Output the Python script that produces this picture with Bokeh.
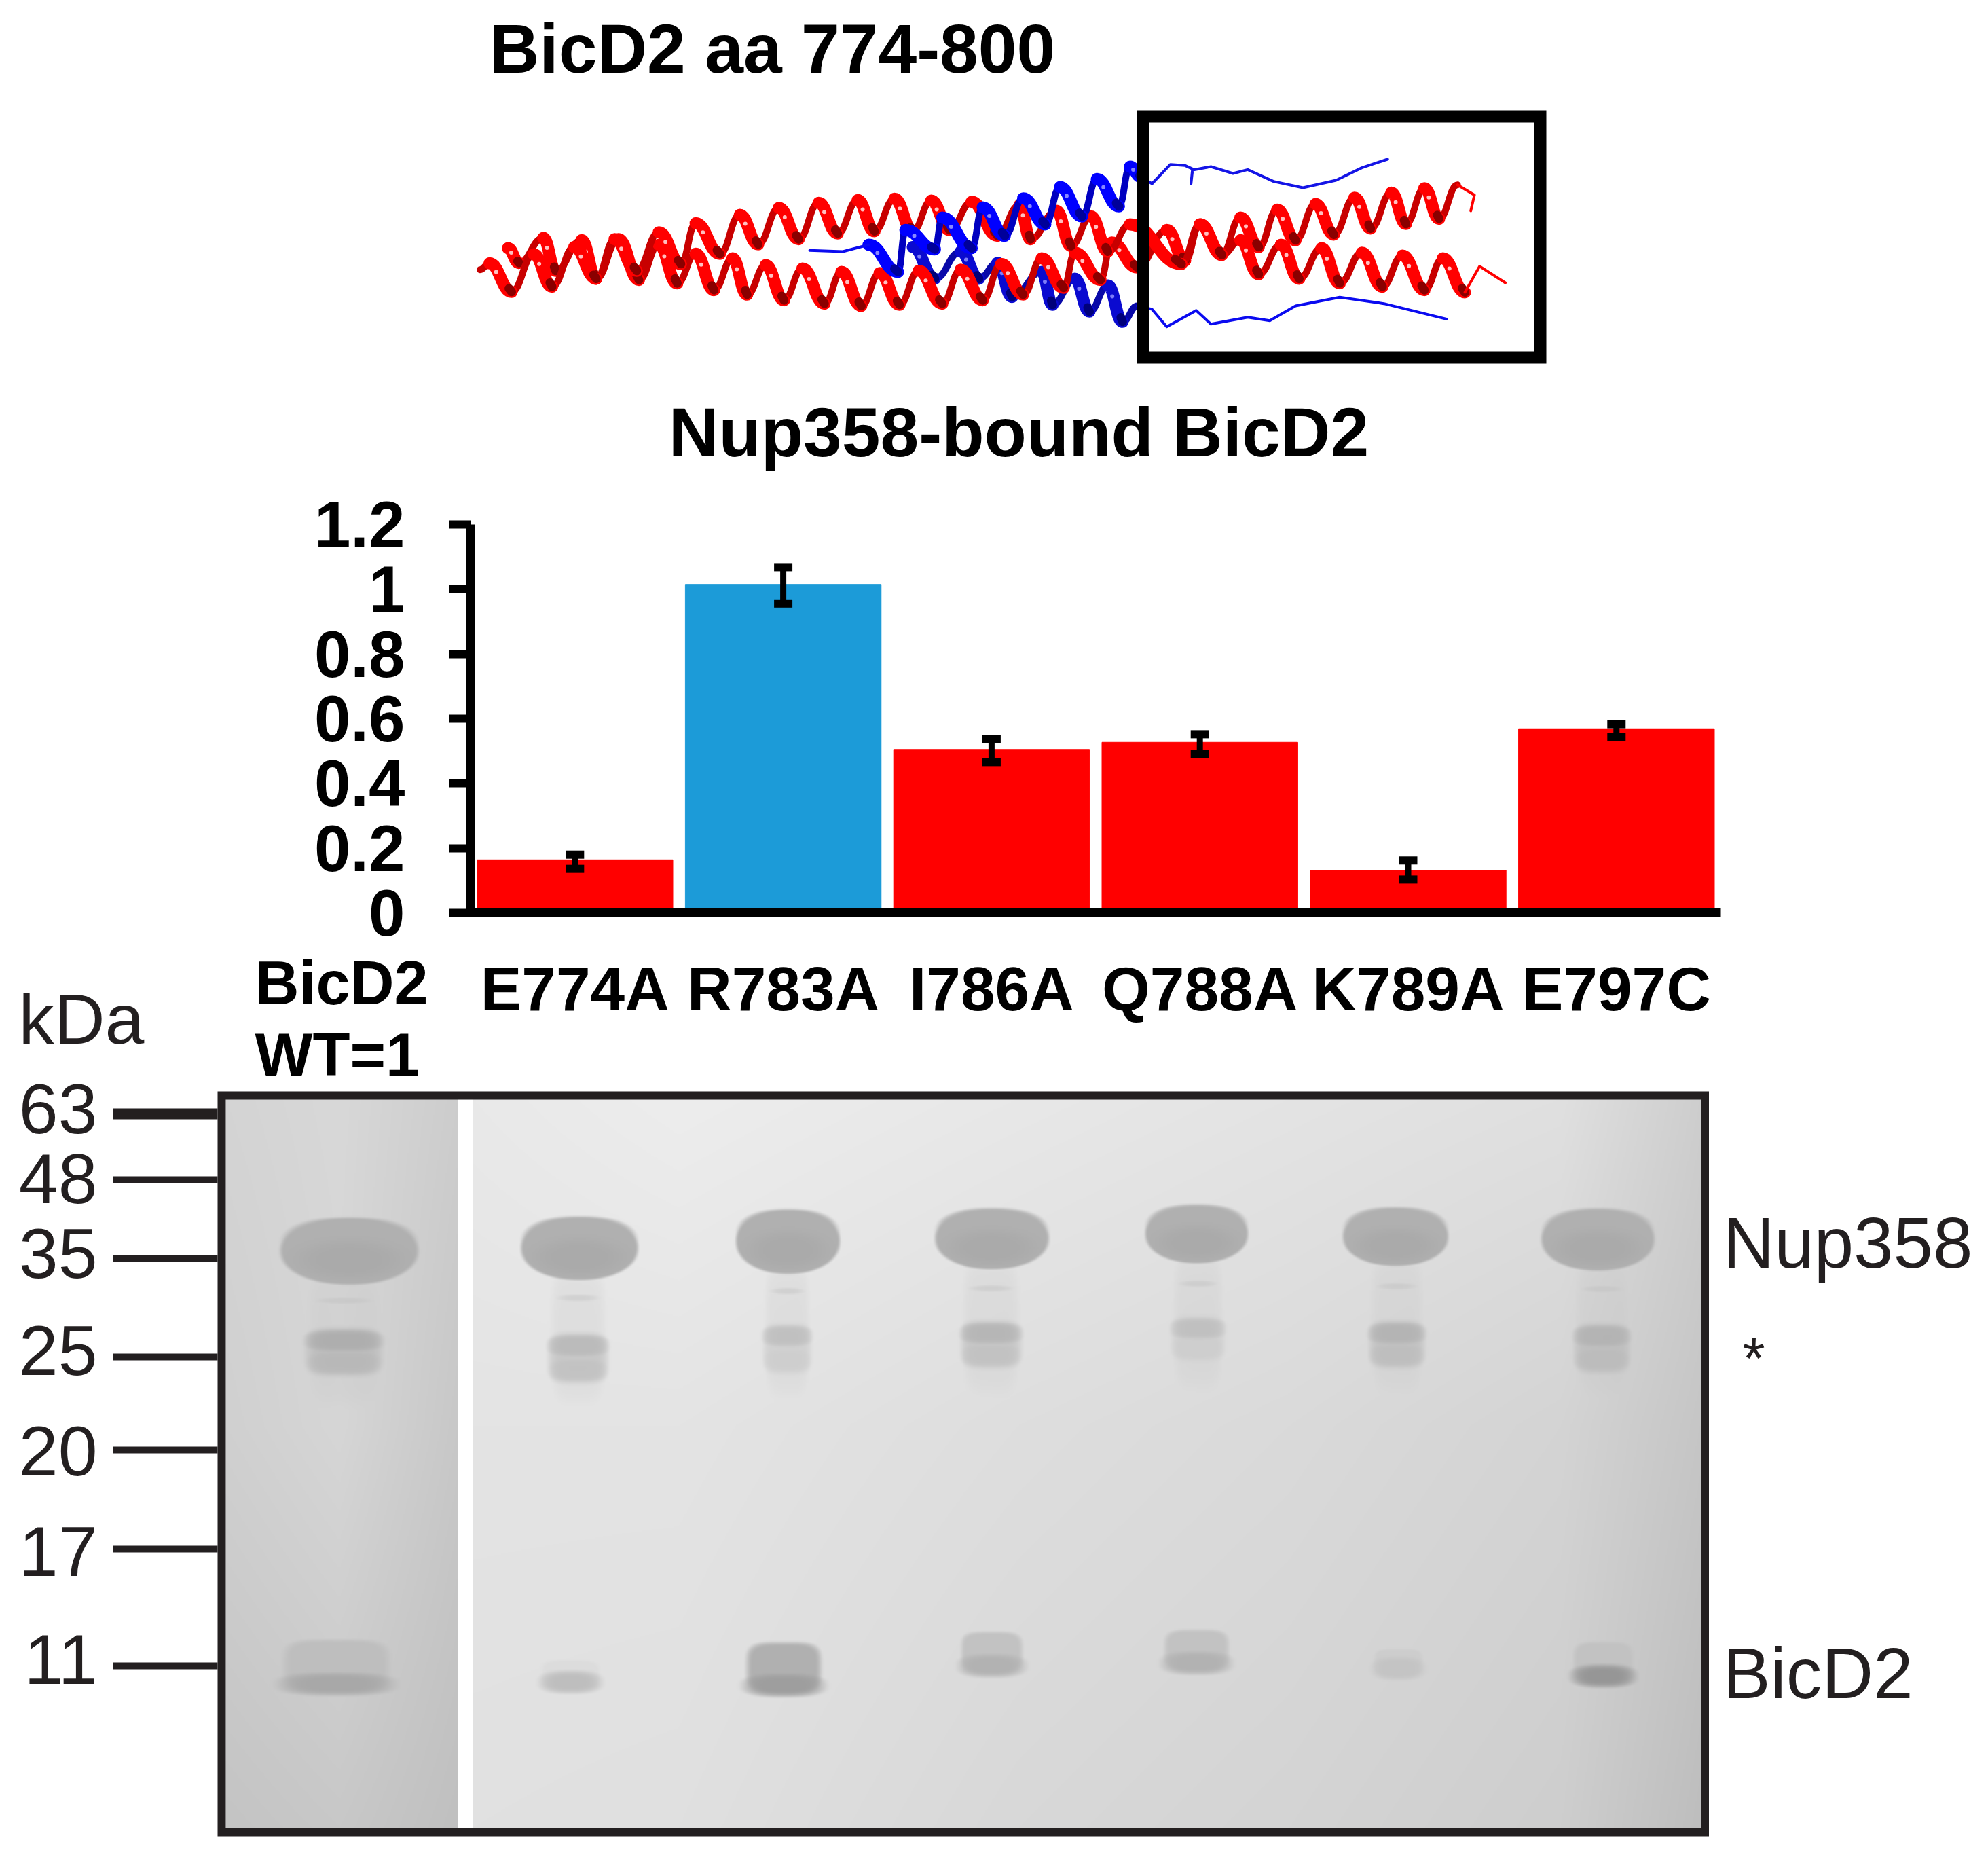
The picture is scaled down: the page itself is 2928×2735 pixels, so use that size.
import numpy as np
from bokeh.core.properties import value
from bokeh.embed import file_html
from bokeh.models import ColumnDataSource, FixedTicker, LinearAxis, Range1d, TeeHead, Whisker
from bokeh.plotting import figure
from bokeh.resources import INLINE

# bar chart values
mutants = ["E774A", "R783A", "I786A", "Q788A", "K789A", "E797C"]
lanes = [0, 1, 2, 3, 4, 5]
bound = [0.164, 1.015, 0.505, 0.527, 0.132, 0.569]
err_low = [0.136, 0.956, 0.466, 0.491, 0.103, 0.543]
err_high = [0.180, 1.068, 0.537, 0.552, 0.162, 0.583]
bar_colors = ["#ff0000", "#1c9bd8", "#ff0000", "#ff0000", "#ff0000", "#ff0000"]
y_ticks = [0, 0.2, 0.4, 0.6, 0.8, 1, 1.2]
y_tick_text = ["0", "0.2", "0.4", "0.6", "0.8", "1", "1.2"]

# molecular weight ladder next to the gel
mw_labels = ["63", "48", "35", "25", "20", "17", "11"]
mw_tick_y = [1640, 1737, 1853, 1998, 2135, 2281, 2453]
mw_text_y = [1632, 1735, 1845, 1988, 2136, 2284, 2443]
mw_tick_w = [16, 10, 10, 10, 10, 10, 10]

# gel lanes in page pixels
nup_x = [514, 853, 1160, 1461, 1763, 2056, 2354]
nup_hw = [106, 90, 80, 88, 79, 81, 87]
nup_y = [1839, 1835, 1825, 1821, 1814, 1818, 1822]
nup_hh = [51, 48, 49, 46, 44, 44, 47]
star_x = [506, 851, 1159, 1460, 1765, 2058, 2360]
star_hw = [60, 47, 38, 48, 42, 44, 44]
star_y1 = [1974, 1981, 1967, 1963, 1956, 1963, 1967]
star_y2 = [2007, 2018, 2004, 1996, 1985, 1996, 2003]
star_gray1 = [172, 185, 190, 180, 190, 178, 178]
star_gray2 = [182, 192, 205, 192, 205, 188, 186]
bic_x = [495, 840, 1154, 1461, 1763, 2060, 2362]
bic_hw = [92, 50, 65, 54, 56, 42, 52]
bic_y = [2480, 2477, 2482, 2453, 2449, 2457, 2468]
bic_top = [2423, 2455, 2427, 2412, 2409, 2438, 2427]
bic_gray = [168, 190, 158, 178, 178, 196, 150]
bic_upper = [190, 220, 176, 194, 194, 205, 194]

# coarse gel shading
left_x = [332, 500, 674]
right_x = [697, 1000, 1500, 1900, 2300, 2505]
shade_y = [1618, 2100, 2692]
left_gray = [[212, 216, 205], [208, 214, 200], [196, 200, 192]]
right_gray = [[233, 237, 232, 228, 224, 206],
              [228, 228, 222, 218, 212, 198],
              [225, 224, 216, 212, 206, 190]]

red_a_x = [52, 65, 95, 125, 150, 180, 210, 235, 265, 295, 325, 345, 378, 405, 430, 458, 485, 512, 538, 565,
           588, 615, 640, 665, 690, 720, 755, 785, 800, 835, 855, 882, 905, 935, 1005, 1030, 1060, 1085,
           1110, 1140, 1165, 1195, 1220, 1250, 1278, 1305, 1335, 1360, 1390]
red_a_y = [800, 772, 898, 732, 875, 700, 840, 665, 805, 635, 775, 595, 730, 558, 688, 527, 665, 505, 640, 493,
           630, 487, 630, 495, 625, 500, 650, 515, 665, 540, 695, 565, 720, 600, 775, 600, 735, 670,
           820, 690, 840, 705, 860, 725, 875, 738, 890, 750, 900]
red_b_x = [90, 105, 138, 155, 190, 210, 240, 268, 295, 320, 345, 370, 395, 415, 440, 465, 490, 520, 543, 570,
           595, 622, 648, 680, 705, 735, 760, 790, 815, 845, 860, 895, 910, 945, 985, 1010, 1030, 1060, 1085,
           1110, 1135, 1160, 1187, 1212, 1240, 1262, 1290, 1310, 1335, 1355, 1380]
red_b_y = [705, 770, 660, 805, 670, 840, 665, 845, 690, 860, 730, 890, 750, 910, 780, 935, 795, 950, 810, 960,
           815, 955, 805, 950, 800, 935, 775, 910, 750, 880, 725, 845, 680, 790, 625, 760, 600, 730, 570,
           700, 535, 670, 510, 645, 482, 618, 460, 598, 440, 575, 425]
red_a_tail_x = [1390, 1410, 1445]
red_a_tail_y = [900, 785, 858]
red_b_tail_x = [1380, 1403, 1398]
red_b_tail_y = [425, 470, 540]
blue_a_x = [580, 620, 630, 670, 680, 720, 735, 765, 790, 820, 840, 870, 890, 920, 935, 950]
blue_a_y = [690, 810, 625, 710, 570, 705, 525, 650, 485, 600, 435, 565, 400, 520, 345, 390]
blue_a_tail_x = [950, 965, 990, 1010, 1020, 1018, 1020, 1045, 1075, 1095, 1130, 1170, 1215, 1250, 1285]
blue_a_tail_y = [390, 420, 335, 340, 355, 420, 360, 345, 375, 358, 410, 438, 405, 350, 312]
blue_start_x = [500, 545, 580]
blue_start_y = [715, 720, 690]
blue_b_x = [640, 670, 705, 730, 755, 775, 815, 830, 860, 880, 905, 925, 945]
blue_b_y = [700, 840, 720, 840, 770, 920, 810, 955, 840, 985, 870, 1030, 960]
blue_b_tail_x = [945, 965, 985, 1025, 1045, 1095, 1125, 1160, 1220, 1280, 1365]
blue_b_tail_y = [960, 975, 1052, 980, 1040, 1010, 1025, 960, 922, 950, 1018]

FONT = "Liberation Sans"
INK = "#231f20"

# pixels of the value axis and of the lanes on the page
ZERO_Y, UNIT_Y = 1344, 476.67
LANE0_X, LANE_W = 846.3, 306.8
PAGE_W, PAGE_H = 2912, 2719


def crop_x(xs):
    return [650 + x * 1700 / 1568 for x in xs]


def crop_y(ys):
    return [130 + y / 3 for y in ys]


def add_helix(fig, xs, ys, color, back, dark, shine):
    px, py = np.array(crop_x(xs)), np.array(crop_y(ys))
    x0, x1, y0, y1 = px[:-1], px[1:], py[:-1], py[1:]
    dx = (x1 - x0) * 0.45
    down = y1 > y0
    # back strokes first and thin, front strokes on top and wide
    fig.bezier(x0[~down], y0[~down], x1[~down], y1[~down], (x0 + dx)[~down], y0[~down], (x1 - dx)[~down], y1[~down],
               line_color=back, line_width=10, line_cap="round")
    fig.bezier(x0[down], y0[down], x1[down], y1[down], (x0 + dx)[down], y0[down], (x1 - dx)[down], y1[down],
               line_color=color, line_width=18, line_cap="round")
    # shaded bottom of every turn and a glossy spot near its top
    lx = x0 + (x1 - x0) * 0.88
    ly = y0 + (y1 - y0) * 0.88
    fig.segment(lx[down], ly[down], x1[down], y1[down], line_color=dark, line_width=13, line_cap="round")
    fig.scatter(x0[down] + (x1 - x0)[down] * 0.3, y0[down] + (y1 - y0)[down] * 0.3, size=6, color=shine, alpha=0.85,
                line_color=None)


def add_tail(fig, xs, ys, color):
    fig.line(crop_x(xs), crop_y(ys), line_color=color, line_width=4, line_join="round", line_cap="round")


def blob(xx, yy, cx, hw, cy, hh, power=2.6, soft=0.25):
    r = np.abs((xx - cx) / hw) ** power + np.abs((yy - cy) / hh) ** power
    t = np.clip((1 - r) / soft, 0, 1)
    return t * t * (3 - 2 * t)


def paint(gray, mask, level):
    return gray * (1 - mask) + level * mask


def gel_pixels(step=2):
    xs = np.arange(332, 2505, step) + step / 2
    ys = np.arange(1618, 2692, step) + step / 2
    xx, yy = np.meshgrid(xs, ys)
    rows = np.array([np.interp(xs, left_x, row) for row in left_gray])
    left = np.array([np.interp(ys, shade_y, rows[:, j]) for j in range(rows.shape[1])]).T
    rows = np.array([np.interp(xs, right_x, row) for row in right_gray])
    right = np.array([np.interp(ys, shade_y, rows[:, j]) for j in range(rows.shape[1])]).T
    gray = np.where(xx < 674, left, right)
    for i in range(len(nup_x)):
        # faint smear and ladder below the main band
        mask = blob(xx, yy, star_x[i], star_hw[i] * 0.95, nup_y[i] + 130, 110, 4, 1.0)
        gray = paint(gray, mask * 0.22, 195)
        mask = blob(xx, yy, star_x[i], star_hw[i] * 0.8, nup_y[i] + 76, 6, 2, 1.0)
        gray = paint(gray, mask * 0.4, 190)
        gray = paint(gray, blob(xx, yy, star_x[i], star_hw[i] * 1.05, (star_y1[i] + star_y2[i]) / 2,
                                (star_y2[i] - star_y1[i]) / 2 + 24, 4, 1.0) * 0.75, star_gray2[i])
        gray = paint(gray, blob(xx, yy, star_x[i], star_hw[i] * 1.08, star_y1[i], 18, 3, 1.0) * 0.85, star_gray1[i])
        gray = paint(gray, blob(xx, yy, star_x[i], star_hw[i], star_y2[i], 18, 3, 1.0) * 0.6, star_gray2[i])
        # Nup358 band, flat on top and round below
        gray = paint(gray, blob(xx, yy, nup_x[i], nup_hw[i], nup_y[i] - 6, nup_hh[i] * 0.85, 2.4, 0.35), 182)
        gray = paint(gray, blob(xx, yy, nup_x[i], nup_hw[i], nup_y[i] + 4, nup_hh[i], 2.1, 0.2), 176)
        gray = paint(gray, blob(xx, yy, nup_x[i], nup_hw[i] * 0.9, nup_y[i] + 16, nup_hh[i] * 0.7, 2, 1.0) * 0.5, 164)
        # BicD2 band
        top, low = bic_top[i], bic_y[i]
        gray = paint(gray, blob(xx, yy, bic_x[i], bic_hw[i] * 0.92, (top + low) / 2, (low - top) / 2 + 12, 4, 0.7),
                     bic_upper[i])
        gray = paint(gray, blob(xx, yy, bic_x[i], bic_hw[i] * 1.08, low, 20, 2.6, 1.0), bic_gray[i])
    gray = np.where((xx >= 674) & (xx < 697), 255, gray)
    g = gray.astype(np.uint32)
    return (255 << 24) | (g << 16) | (g << 8) | g


# one page-sized frame, the bar chart gets its own scales on top of it
p = figure(width=PAGE_W, height=PAGE_H, x_range=Range1d(0, PAGE_W), y_range=Range1d(PAGE_H, 0),
           output_backend="svg", toolbar_location=None, x_axis_location=None, y_axis_location=None,
           min_border=0, outline_line_color=None)
p.grid.visible = False
p.extra_x_ranges["lane"] = Range1d(-LANE0_X / LANE_W, (PAGE_W - LANE0_X) / LANE_W)
p.extra_y_ranges["bound"] = Range1d((ZERO_Y - PAGE_H) / UNIT_Y, ZERO_Y / UNIT_Y)

# titles and the coiled coil sketch
p.text([1137, 1500], [71, 636], text=["BicD2 aa 774-800", "Nup358-bound BicD2"], text_font=value(FONT),
       text_font_style="bold", text_font_size="102px", text_align="center", text_baseline="middle",
       text_color="black")
add_helix(p, blue_b_x, blue_b_y, "#0a0ad0", "#0808a8", "#00007a", "#9090ff")
add_helix(p, red_b_x, red_b_y, "#ff0000", "#c80000", "#8a0000", "#ffe0e0")
add_helix(p, red_a_x, red_a_y, "#ff0000", "#c80000", "#8a0000", "#ffe0e0")
add_helix(p, blue_a_x, blue_a_y, "#0000ff", "#0000c0", "#00009a", "#a0a0ff")
add_tail(p, red_a_tail_x, red_a_tail_y, "#ff0000")
add_tail(p, red_b_tail_x, red_b_tail_y, "#ff0000")
add_tail(p, blue_a_tail_x, blue_a_tail_y, "#1414e6")
add_tail(p, blue_b_tail_x, blue_b_tail_y, "#0a0af0")
add_tail(p, blue_start_x, blue_start_y, "#0a0af0")
p.quad(left=[1683], right=[2268], top=[171], bottom=[526], fill_color=None, line_color="black", line_width=18,
       line_join="miter")

# bar chart
source = ColumnDataSource({"lane": lanes, "bound": bound, "low": err_low, "high": err_high, "color": bar_colors})
p.vbar(x="lane", top="bound", width=0.94, color="color", source=source, x_range_name="lane", y_range_name="bound")
p.add_layout(Whisker(base="lane", lower="low", upper="high", source=source, line_color="black", line_width=9,
                     level="annotation", x_range_name="lane", y_range_name="bound",
                     lower_head=TeeHead(size=27, line_width=12, line_color="black"),
                     upper_head=TeeHead(size=27, line_width=12, line_color="black")))

y_axis = LinearAxis(x_range_name="lane", y_range_name="bound", fixed_location=-0.5, bounds=(0, 1.2),
                    ticker=FixedTicker(ticks=y_ticks), major_label_overrides=dict(zip(y_ticks, y_tick_text)),
                    axis_line_width=13, axis_line_color="black", major_tick_line_width=12,
                    major_tick_line_color="black", major_tick_out=32, major_tick_in=0, minor_tick_line_color=None,
                    major_label_standoff=65, major_label_text_font=FONT, major_label_text_font_style="bold",
                    major_label_text_font_size="96px", major_label_text_color="black")
p.add_layout(y_axis, "left")
x_axis = LinearAxis(x_range_name="lane", y_range_name="bound", fixed_location=0, bounds=(-0.5, 5.5),
                    ticker=FixedTicker(ticks=lanes), major_label_overrides=dict(zip(lanes, mutants)),
                    axis_line_width=13, axis_line_color="black", major_tick_line_color=None,
                    minor_tick_line_color=None, major_tick_out=0, major_tick_in=0,
                    major_label_standoff=61, major_label_text_font=FONT, major_label_text_font_style="bold",
                    major_label_text_font_size="91px", major_label_text_color="black")
p.add_layout(x_axis, "below")

p.text([375, 375], [1447, 1553], text=["BicD2", "WT=1"], text_font=value(FONT), text_font_style="bold",
       text_font_size="90px", text_baseline="middle", text_color="black")
p.text([27], [1500], text=["kDa"], text_font=value(FONT), text_font_size="104px", text_baseline="middle",
       text_color=INK)

# gel panel
p.image_rgba(image=[gel_pixels()], x=332, y=1618, dw=2173, dh=1074)
p.quad(left=[326], right=[2510.5], top=[1613], bottom=[2698], fill_color=None, line_color=INK, line_width=12,
       line_join="miter")
p.segment(x0=[166] * len(mw_tick_y), x1=[320] * len(mw_tick_y), y0=mw_tick_y, y1=mw_tick_y,
          line_color=INK, line_width=mw_tick_w)
p.text([143] * len(mw_labels), mw_text_y, text=mw_labels, text_font=value(FONT), text_font_size="104px",
       text_align="right", text_baseline="middle", text_color=INK)
p.text([2537, 2537], [1830, 2464], text=["Nup358", "BicD2"], text_font=value(FONT), text_font_size="105px",
       text_baseline="middle", text_color=INK)
p.text([2566], [2000], text=["*"], text_font=value(FONT), text_font_size="85px", text_baseline="middle",
       text_color=INK)

open("out.html", "w").write(file_html(p, INLINE))
